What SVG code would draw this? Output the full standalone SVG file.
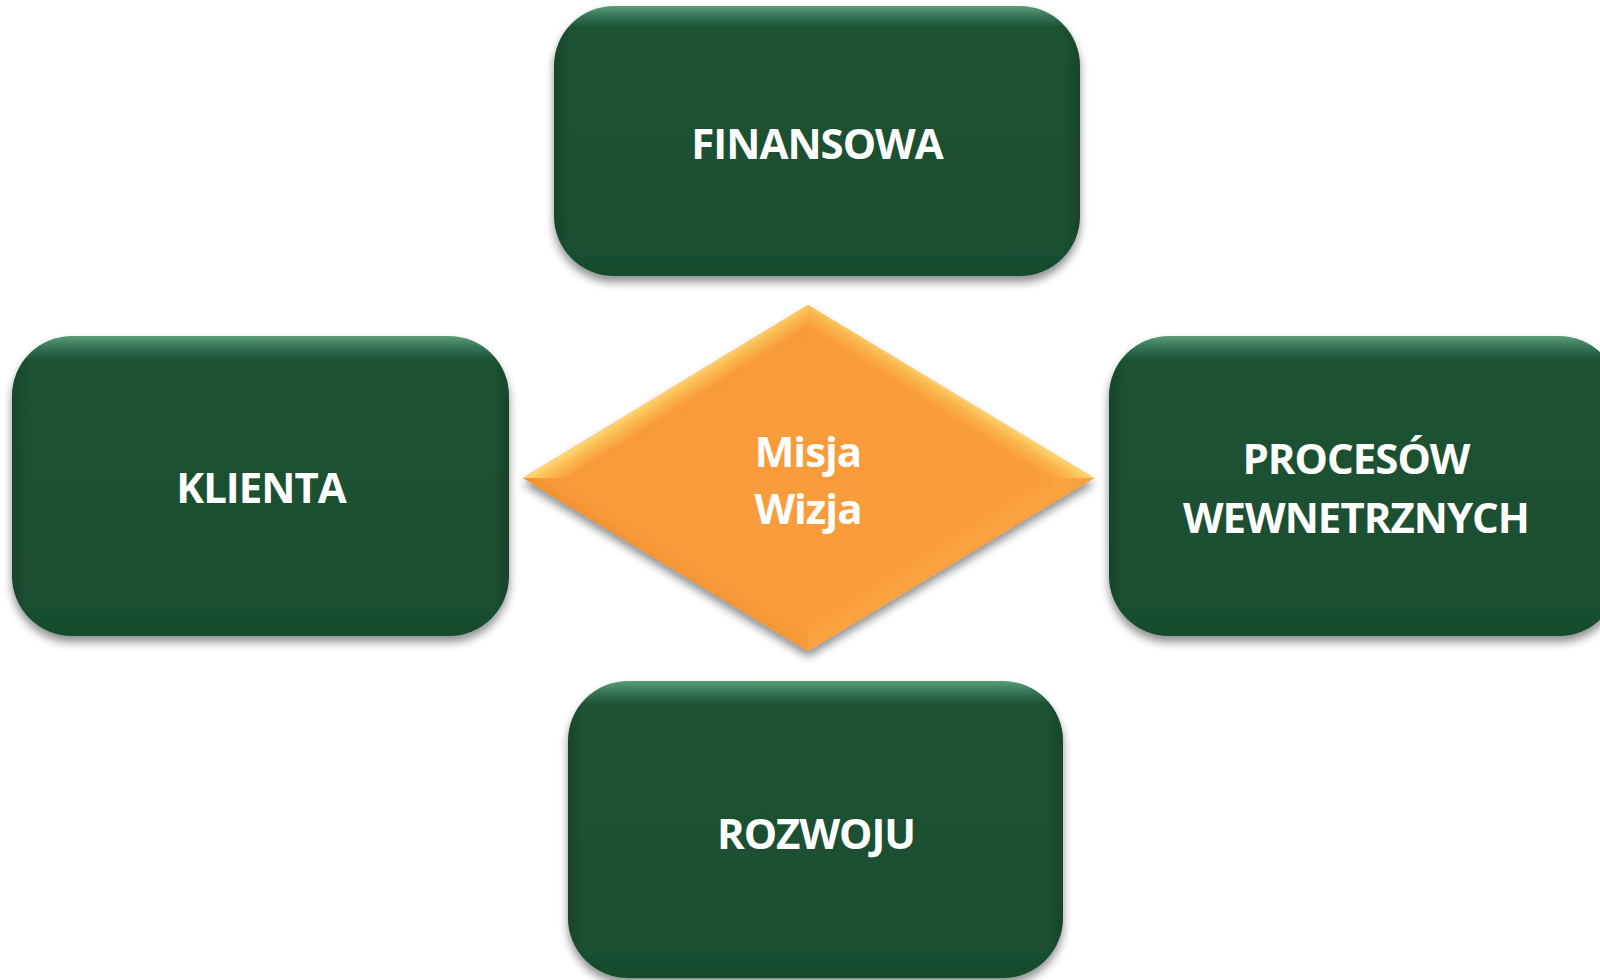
<svg xmlns="http://www.w3.org/2000/svg" width="1600" height="980" viewBox="0 0 1600 980">
  <defs>
    <linearGradient id="gBox" x1="0" y1="0" x2="0" y2="1">
      <stop offset="0" stop-color="#5c9d78"/>
      <stop offset="0.035" stop-color="#37775a"/>
      <stop offset="0.08" stop-color="#1a5133"/>
      <stop offset="0.9" stop-color="#1a5033"/>
      <stop offset="1" stop-color="#164a2d"/>
    </linearGradient>
    <linearGradient id="gSide" x1="0" y1="0" x2="1" y2="0">
      <stop offset="0" stop-color="#000" stop-opacity="0.15"/>
      <stop offset="0.03" stop-color="#000" stop-opacity="0"/>
      <stop offset="0.97" stop-color="#000" stop-opacity="0"/>
      <stop offset="1" stop-color="#000" stop-opacity="0.15"/>
    </linearGradient>
    <linearGradient id="gFace" x1="0" y1="0" x2="1" y2="1">
      <stop offset="0" stop-color="#f7993a"/>
      <stop offset="1" stop-color="#fb9e3b"/>
    </linearGradient>
    <linearGradient id="gTL" gradientUnits="userSpaceOnUse" x1="665" y1="391" x2="677" y2="410">
      <stop offset="0" stop-color="#fdd570"/>
      <stop offset="0.35" stop-color="#fbbd55"/>
      <stop offset="1" stop-color="#f89b39"/>
    </linearGradient>
    <linearGradient id="gTR" gradientUnits="userSpaceOnUse" x1="951" y1="391" x2="939" y2="410">
      <stop offset="0" stop-color="#fdd06a"/>
      <stop offset="0.35" stop-color="#fbb650"/>
      <stop offset="1" stop-color="#f99c39"/>
    </linearGradient>
    <linearGradient id="gBL" gradientUnits="userSpaceOnUse" x1="665" y1="565" x2="677" y2="546">
      <stop offset="0" stop-color="#f3922f"/>
      <stop offset="0.3" stop-color="#f69937"/>
      <stop offset="1" stop-color="#f89b39"/>
    </linearGradient>
    <linearGradient id="gBR" gradientUnits="userSpaceOnUse" x1="951" y1="565" x2="939" y2="546">
      <stop offset="0" stop-color="#f7a03f"/>
      <stop offset="0.3" stop-color="#fba43f"/>
      <stop offset="1" stop-color="#fa9e3b"/>
    </linearGradient>
    <filter id="shadow" x="-10%" y="-10%" width="120%" height="125%">
      <feGaussianBlur in="SourceAlpha" stdDeviation="5"/>
      <feOffset dx="0" dy="6" result="b"/>
      <feComponentTransfer><feFuncA type="linear" slope="0.45"/></feComponentTransfer>
      <feMerge><feMergeNode/><feMergeNode in="SourceGraphic"/></feMerge>
    </filter>
    <style>
      .box { fill: url(#gBox); }
      .side { fill: url(#gSide); }
      .lbl { font-family: "Open Sans", "Liberation Sans", sans-serif; font-weight: 700; font-size: 42px; letter-spacing: -1px; fill: #ffffff; text-anchor: middle; }
    </style>
  </defs>

  <rect width="1600" height="980" fill="#ffffff"/>

  <g id="node-finansowa">
    <g filter="url(#shadow)">
      <rect class="box" x="554" y="6" width="526" height="270" rx="60"/>
    </g>
    <rect class="side" x="554" y="6" width="526" height="270" rx="60"/>
    <text class="lbl" x="817" y="159">FINANSOWA</text>
  </g>

  <g id="node-klienta">
    <g filter="url(#shadow)">
      <rect class="box" x="12" y="336" width="497" height="300" rx="60"/>
    </g>
    <rect class="side" x="12" y="336" width="497" height="300" rx="60"/>
    <text class="lbl" x="261" y="503">KLIENTA</text>
  </g>

  <g id="node-procesow">
    <g filter="url(#shadow)">
      <rect class="box" x="1109" y="336" width="510" height="300" rx="60"/>
    </g>
    <rect class="side" x="1109" y="336" width="510" height="300" rx="60"/>
    <text class="lbl" x="1356" y="474">PROCESÓW</text>
    <text class="lbl" x="1356" y="533">WEWNETRZNYCH</text>
  </g>

  <g id="node-rozwoju">
    <g filter="url(#shadow)">
      <rect class="box" x="568" y="681" width="495" height="297" rx="60"/>
    </g>
    <rect class="side" x="568" y="681" width="495" height="297" rx="60"/>
    <text class="lbl" x="816" y="849">ROZWOJU</text>
  </g>

  <g id="node-misja">
    <g filter="url(#shadow)">
      <polygon points="523,478 808,305 1094,478 808,651" fill="#f89b38"/>
    </g>
    <polygon points="523,478 808,305 808,331 565,478" fill="url(#gTL)"/>
    <polygon points="808,305 1094,478 1052,478 808,331" fill="url(#gTR)"/>
    <polygon points="1094,478 808,651 808,625 1052,478" fill="url(#gBR)"/>
    <polygon points="808,651 523,478 565,478 808,625" fill="url(#gBL)"/>
    <polygon points="565,478 808,331 1052,478 808,625" fill="url(#gFace)"/>
    <text class="lbl" x="808" y="467">Misja</text>
    <text class="lbl" x="808" y="524">Wizja</text>
  </g>
</svg>
